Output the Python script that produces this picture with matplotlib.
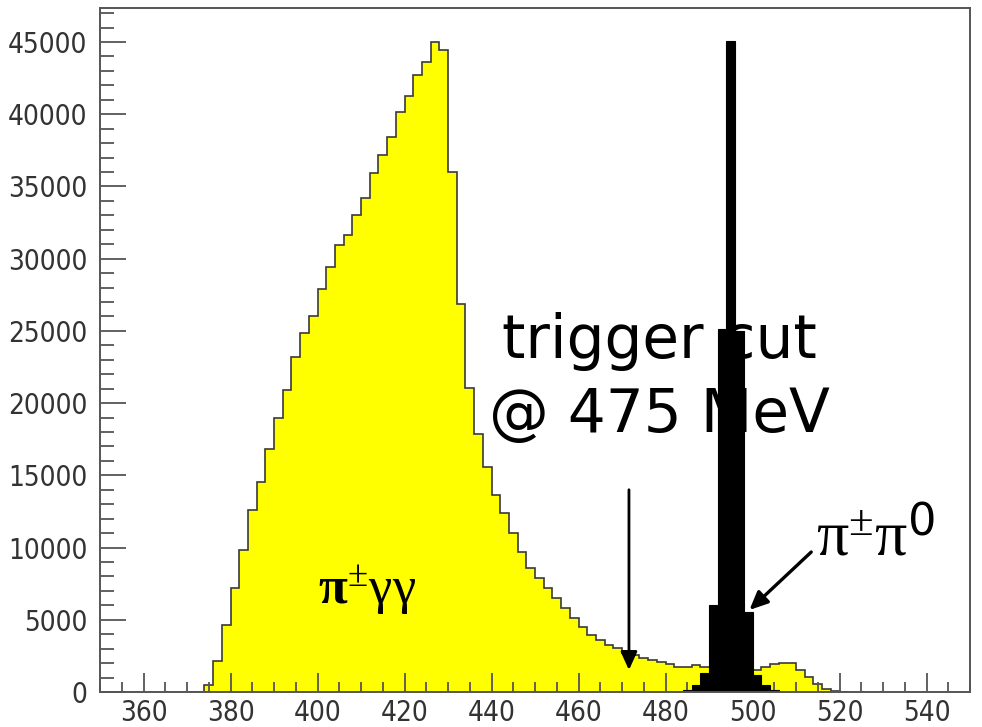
import numpy as np
import matplotlib.pyplot as plt
from matplotlib.ticker import MultipleLocator

# bin edges (MeV), 2 MeV wide
edges_gg = np.arange(370, 524, 2)
# pi+- gamma gamma spectrum, counts per bin
counts_gg = [0, 0, 500, 2150, 4650, 7180, 9830, 12600, 14560, 16800,
             18950, 20900, 23200, 24830, 26030, 27880, 29400, 30950, 31640, 33020,
             34220, 35950, 37180, 38450, 40130, 41290, 42720, 43600, 45020, 44450,
             36030, 26870, 21030, 17860, 15560, 13640, 12370, 10990, 9720, 8560,
             7870, 7180, 6490, 5790, 5100, 4520, 3950, 3600, 3250, 3020,
             2720, 2560, 2330, 2215, 2100, 1940, 1750, 1750, 1850, 1750,
             1700, 1650, 1600, 1550, 1520, 1520, 1750, 1940, 2030, 2000,
             1520, 1040, 580, 230, 80, 0]

# pi+- pi0 peak
edges_pp = np.arange(484, 508, 2)
counts_pp = [150, 485, 1290, 6020, 25100, 45050, 25000, 5560, 1180, 485, 150]

x_major = 20
y_major = 5000

cut_x = 471.6          # arrow for the trigger cut
cut_top = 14000
cut_tip = 1520

plt.rcParams['mathtext.fontset'] = 'custom'
plt.rcParams['mathtext.rm'] = 'Liberation Serif'
plt.rcParams['mathtext.it'] = 'Liberation Serif'
plt.rcParams['mathtext.bf'] = 'Liberation Serif:bold'
plt.rcParams['mathtext.sf'] = 'DejaVu Sans'

fig = plt.figure(figsize=(9.82, 7.27), dpi=100)
ax = fig.add_axes([100 / 982, 35 / 727, 870 / 982, 684 / 727])

ax.stairs(counts_gg, edges_gg, fill=True, facecolor='#ffff00', edgecolor='none', zorder=1)
ax.stairs(counts_gg, edges_gg, fill=False, edgecolor='#3a3a3a', linewidth=1.2, zorder=1.5)
ax.stairs(counts_pp, edges_pp, fill=True, facecolor='black', edgecolor='black',
          linewidth=0.8, zorder=2)

ax.set_xlim(350, 550)
ax.set_ylim(0, 47350)

ax.xaxis.set_major_locator(MultipleLocator(x_major))
ax.xaxis.set_minor_locator(MultipleLocator(5))
ax.yaxis.set_major_locator(MultipleLocator(y_major))
ax.yaxis.set_minor_locator(MultipleLocator(1000))

axis_col = '#555555'
ax.tick_params(axis='x', which='major', direction='in', length=14, width=1.3, color=axis_col,
               pad=5, labelsize=20, labelcolor='#333333')
ax.tick_params(axis='x', which='minor', direction='in', length=7, width=1.3, color=axis_col)
ax.tick_params(axis='y', which='major', direction='in', length=19, width=1.3, color=axis_col,
               pad=9, labelsize=20, labelcolor='#333333')
ax.tick_params(axis='y', which='minor', direction='in', length=10, width=1.3, color=axis_col)
for lab in ax.get_xticklabels() + ax.get_yticklabels():
    lab.set_fontfamily('DejaVu Sans')
    lab.set_fontstretch('condensed')
for sp in ax.spines.values():
    sp.set_color(axis_col)
    sp.set_linewidth(1.4)

# labels
ax.text(478.5, 23120, 'trigger cut', ha='center', va='baseline', fontsize=43,
        family='DejaVu Sans', zorder=3)
ax.text(478.5, 18000, '@ 475 MeV', ha='center', va='baseline', fontsize=43,
        family='DejaVu Sans', zorder=3)
ax.annotate('', xy=(cut_x, cut_tip), xytext=(cut_x, cut_top),
            arrowprops=dict(arrowstyle='-|>,head_length=0.55,head_width=0.25',
                            mutation_scale=20, lw=2, color='black',
                            shrinkA=0, shrinkB=0), zorder=3)

ax.text(400.2, 6160, r'$\mathbf{π}^{\pm}\mathrm{γγ}$', ha='left', va='baseline',
        fontsize=38, zorder=3)
ax.text(514.6, 9480, r'$\mathrm{π}^{\pm}\mathrm{π}^{\mathsf{0}}$', ha='left', va='baseline',
        fontsize=46, zorder=3)
ax.annotate('', xy=(499.3, 5680), xytext=(513.5, 9690),
            arrowprops=dict(arrowstyle='-|>,head_length=0.55,head_width=0.25',
                            mutation_scale=20, lw=2.4, color='black',
                            shrinkA=0, shrinkB=0), zorder=3)

fig.savefig('out.png', dpi=100)
